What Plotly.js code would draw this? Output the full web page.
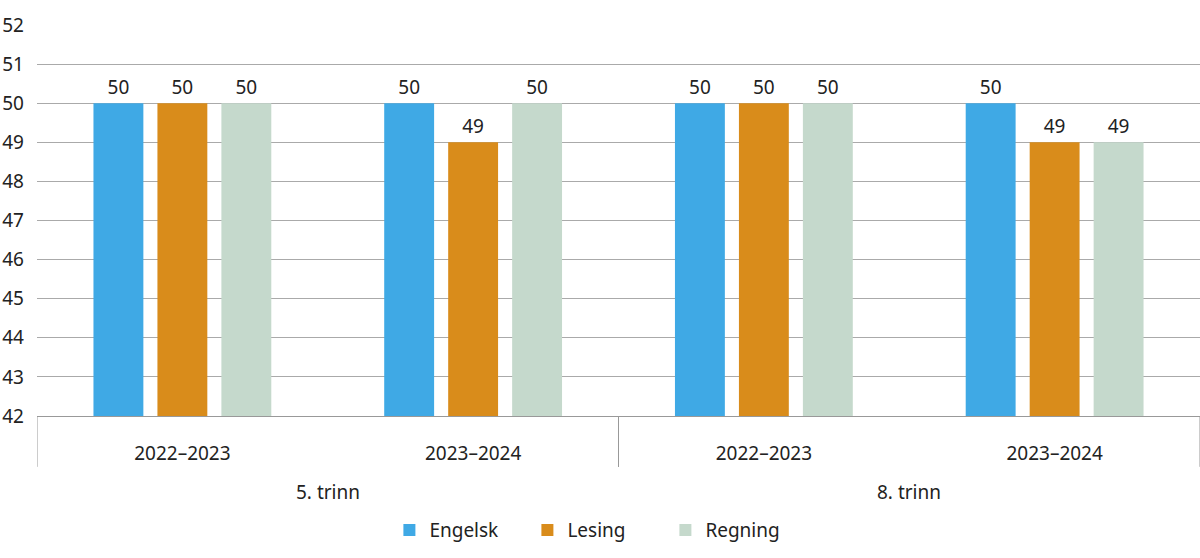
<!DOCTYPE html>
<html>
<head>
<meta charset="utf-8">
<script src="https://cdn.plot.ly/plotly-3.0.1.min.js"></script>
<style>html,body{margin:0;padding:0;background:#fff}#chart{width:1200px;height:558px}</style>
</head>
<body>
<div id="chart"></div>
<script>
const groups = ["5. trinn", "5. trinn", "8. trinn", "8. trinn"];
const years = ["2022–2023", "2023–2024", "2022–2023", "2023–2024"];
const engelsk = [50, 50, 50, 50];
const lesing = [50, 49, 50, 49];
const regning = [50, 50, 50, 49];
const seriesNames = ["Engelsk", "Lesing", "Regning"];
const seriesColors = ["#3fa9e5", "#d98c1b", "#c5d9cc"];
const yTicks = [42, 43, 44, 45, 46, 47, 48, 49, 50, 51, 52];

const font = {family: "Noto Sans, Open Sans, sans-serif", size: 19, color: "#222"};
const cats = groups.map((g, i) => g + " " + years[i]);

const data = [engelsk, lesing, regning].map((vals, i) => ({
  type: "bar",
  name: seriesNames[i],
  x: cats,
  y: vals,
  marker: {color: seriesColors[i]},
  text: vals.map(String),
  textposition: "outside",
  textfont: font,
  cliponaxis: false,
  hoverinfo: "skip"
}));

// group labels and dividers, derived from the groups array
const uniqueGroups = [...new Set(groups)];
const annotations = [];
const shapes = [];
uniqueGroups.forEach(g => {
  const idx = groups.map((v, i) => v === g ? i : -1).filter(i => i >= 0);
  const first = idx[0], last = idx[idx.length - 1];
  annotations.push({
    x: (first + last) / 2, xref: "x", y: -0.195, yref: "paper",
    text: g, showarrow: false, font: font, xanchor: "center", yanchor: "middle"
  });
  [first - 0.5, last + 0.5].forEach(xv => {
    shapes.push({type: "line", xref: "x", yref: "paper", x0: xv, x1: xv, y0: 0, y1: -0.13,
      line: {color: "#999", width: 1}});
  });
});

const layout = {
  width: 1200, height: 558,
  margin: {l: 37, r: 0, t: 25, b: 142, autoexpand: false},
  paper_bgcolor: "#fff", plot_bgcolor: "#fff",
  font: font,
  barmode: "group",
  bargap: 0.34,
  bargroupgap: 0.22,
  showlegend: true,
  legend: {orientation: "h", x: 0.497, xanchor: "center", xref: "container", yref: "container", y: 0.05, yanchor: "middle",
    font: font, traceorder: "normal", entrywidth: 93, entrywidthmode: "pixels"},
  xaxis: {
    type: "category", automargin: false, range: [-0.5, 3.5],
    tickvals: cats, ticktext: years,
    showline: true, linecolor: "#999", linewidth: 1,
    showgrid: false, tickfont: font, ticks: "", ticklabelstandoff: 20, fixedrange: true
  },
  yaxis: {
    range: [42, 52], automargin: false,
    tickvals: yTicks, ticktext: yTicks.map(String),
    showgrid: true, gridcolor: "#aaaaaa", gridwidth: 1,
    zeroline: false, showline: false,
    tickfont: font, ticklabelstandoff: 12, fixedrange: true
  },
  annotations: annotations,
  shapes: shapes
};

Plotly.newPlot("chart", data, layout, {staticPlot: true});
</script>
</body>
</html>
